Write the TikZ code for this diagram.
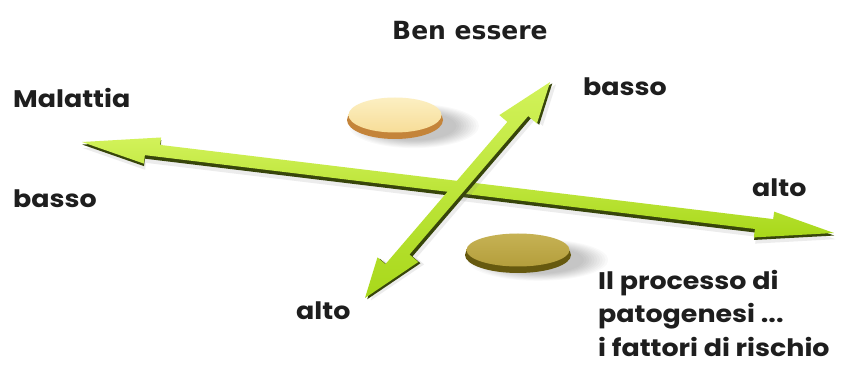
\documentclass[tikz,border=0pt]{standalone}
\usepackage{fontspec}
\setmainfont{Poppins}[FakeStretch=1.12]
\newfontfamily\dejavub{DejaVu Sans}
\definecolor{limeA}{HTML}{A8D81A}
\definecolor{limeL}{HTML}{D2F25A}
\definecolor{limeD}{HTML}{37450A}
\definecolor{discLface}{HTML}{F7DD98}
\definecolor{discLtop}{HTML}{FCEFC2}
\definecolor{discLrim}{HTML}{C4843A}
\definecolor{discOface}{HTML}{B49E3C}
\definecolor{discOtop}{HTML}{C6B254}
\definecolor{discOrim}{HTML}{66590F}
\definecolor{txt}{HTML}{1E1E1E}
% x y angle length a b c d h
\newcommand\dblarr[9]{%
\begin{scope}[shift={(#1,#2)},rotate=#3]
  \fill[gray,opacity=0.15] (2,-6) -- (#5+2,#9-6) -- (#5+2,0) -- (#4-#7+2,0) -- (#4-#7+2,#9-6) -- (#4+2,-6) -- (#4-#8+2,-#9-6) -- (#4-#8+2,-13) -- (#6+2,-13) -- (#6+2,-#9-6) -- cycle;
  \fill[limeD] (0.5,-2.5) -- (#5+0.5,#9-2.5) -- (#5+0.5,3.5) -- (#4-#7+0.5,3.5) -- (#4-#7+0.5,#9-2.5) -- (#4+0.5,-2.5) -- (#4-#8+0.5,-#9-2.5) -- (#4-#8+0.5,-9) -- (#6+0.5,-9) -- (#6+0.5,-#9-2.5) -- cycle;
  \shade[top color=limeL,bottom color=limeA] (0,0) -- (#5,#9) -- (#5,6.5) -- (#4-#7,6.5) -- (#4-#7,#9) -- (#4,0) -- (#4-#8,-#9) -- (#4-#8,-5.5) -- (#6,-5.5) -- (#6,-#9) -- cycle;
\end{scope}}
\tikzset{
  lab/.style={font=\bfseries\fontsize{24}{33.5}\selectfont, text=txt, inner sep=0pt, anchor=base west},
}
\begin{document}
\begin{tikzpicture}[x=1pt,y=1pt]
\useasboundingbox (0,0) rectangle (844,367);
\fill[white] (0,0) rectangle (844,367);
% disc shadows (soft)
\foreach \s in {1.30,1.25,...,0.80}{
  \fill[black,opacity=0.025] (414,241) ellipse [x radius=50*\s, y radius=17*\s];
  \fill[black,opacity=0.025] (538,107) ellipse [x radius=54*\s, y radius=16*\s];
}
% light disc
\fill[discLrim] (395,247) ellipse [x radius=48, y radius=19];
\shade[top color=discLtop,bottom color=discLface] (395,252) ellipse [x radius=46.5, y radius=17.5];
% olive disc
\fill[discOrim] (518,112) ellipse [x radius=53, y radius=18];
\shade[top color=discOtop,bottom color=discOface] (518,117) ellipse [x radius=51.5, y radius=16.5];
% arrows
\dblarr{82}{225}{-6.9}{757.5}{78}{64}{62}{79}{14}
\dblarr{365}{69}{49.4}{284.4}{39}{62}{58}{40}{17}
% labels
\node[lab, font=\dejavub\bfseries\fontsize{25}{30}\selectfont] (ben) at (392,327) {Ben essere};
\node[lab] (bassoR) at (583,271) {basso};
\node[lab] (malattia) at (13,259) {Malattia};
\node[lab] (bassoL) at (13,159) {basso};
\node[lab] (altoR) at (752,170) {alto};
\node[lab] (altoB) at (296,47) {alto};
\node[lab, align=left, anchor=north west] (proc) at (598,97) {Il processo di\\patogenesi ...\\i fattori di rischio};
\end{tikzpicture}
\end{document}
